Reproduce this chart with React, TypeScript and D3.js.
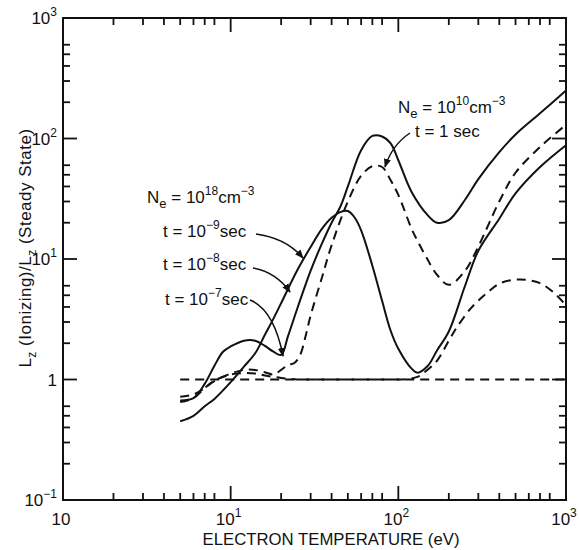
import React from "react";
import * as d3 from "d3";

// ---- axis domains & tick labels ----
const X_DOMAIN: [number, number] = [1, 1000];
const Y_DOMAIN: [number, number] = [0.1, 1000];
const xTickVals = [1, 10, 100, 1000];
const xTickSups = ["", "1", "2", "3"];
const yTickVals = [0.1, 1, 10, 100, 1000];
const yTickBases = ["10", "1", "10", "10", "10"];
const yTickSups = ["\u22121", "", "1", "2", "3"];
const xMinorMults = [2, 3, 4, 5, 6, 7, 8];
const yMinorMults = [2, 3, 4, 5, 6];

// ---- curves (T in eV, ratio) ----
// solid, starts lowest, peak ~25
const tA = [5, 6, 7, 8, 10, 12, 14, 16, 18, 20, 25, 30, 35, 40, 45, 50, 55, 60, 70, 80, 90, 100, 120, 130, 150, 170, 200, 250, 300, 400, 500, 700, 1000];
const rA = [0.45, 0.5, 0.6, 0.69, 0.95, 1.28, 1.65, 2.35, 3.2, 4.3, 8.1, 12.6, 17.8, 22, 24.5, 25, 22, 17.3, 8.8, 4.5, 2.54, 1.8, 1.23, 1.14, 1.3, 1.74, 2.5, 6, 11.7, 21.6, 35, 58, 88];
// solid, low-T bump, peak ~108
const tB = [5, 6, 7, 8, 9, 10, 12, 14, 16, 18, 20, 22, 25, 30, 35, 40, 45, 50, 60, 70, 80, 90, 100, 120, 150, 170, 200, 250, 300, 400, 500, 700, 1000];
const rB = [0.67, 0.7, 0.92, 1.3, 1.7, 1.88, 2.1, 2.1, 1.9, 1.7, 1.6, 2.3, 3.9, 8, 13.4, 20, 27, 40, 80, 105, 104, 91, 66, 36, 23, 20, 21, 31, 46, 77, 108, 162, 250];
// dashed, Ne=1e10 t=1 sec
const tD1 = [5, 6, 7, 8, 10, 12, 14, 16, 18, 20, 22, 24, 26, 28, 30, 35, 40, 50, 60, 70, 80, 90, 100, 120, 130, 150, 170, 200, 250, 300, 400, 500, 700, 1000];
const rD1 = [0.72, 0.75, 0.85, 0.97, 1.12, 1.2, 1.2, 1.15, 1.1, 1.2, 1.32, 1.37, 1.6, 2.3, 3.4, 7, 13, 30, 49, 59, 58, 45, 34, 17.8, 14.2, 9.8, 7.4, 6.1, 8, 12.7, 30, 52, 85, 130];
// dashed, lower
const tD2 = [5, 6, 7, 8, 10, 12, 14, 16, 20, 25, 30, 40, 60, 80, 100, 120, 130, 140, 170, 200, 223, 273, 337, 405, 530, 700, 880, 1000];
const rD2 = [0.65, 0.7, 0.85, 0.98, 1.1, 1.13, 1.12, 1.08, 1.03, 1.0, 1.0, 1.0, 1.0, 1.0, 1.0, 1.02, 1.05, 1.12, 1.43, 2.1, 2.7, 3.95, 5.2, 6.3, 6.76, 6.3, 5.0, 4.1];
// steady state
const tSS = [5, 1000];
const rSS = [1, 1];

const FONT = "'Liberation Sans', Arial, Helvetica, sans-serif";

export default function App() {
  const x = d3.scaleLog().domain(X_DOMAIN).range([63, 566]);
  const y = d3.scaleLog().domain(Y_DOMAIN).range([500, 18]);
  const [x0, x1] = x.range();
  const [y0, y1] = y.range();
  const zip = (t: number[], r: number[]) => t.map((v, i) => [v, r[i]] as [number, number]);
  const line = d3
    .line<[number, number]>()
    .x((d) => x(d[0]))
    .y((d) => y(d[1]))
    .curve(d3.curveCatmullRom.alpha(0.5));

  const xMinor: number[] = [];
  for (let dec = 1; dec < 1000; dec *= 10) xMinorMults.forEach((m) => xMinor.push(dec * m));
  const yMinor: number[] = [];
  for (let dec = 0.1; dec < 999; dec *= 10) yMinorMults.forEach((m) => yMinor.push(+(dec * m).toPrecision(3)));
  const xMajorInner = [10, 100];
  const yMajorInner = [1, 10, 100];
  const MAJ = 14, MIN = 7;

  const curveStyle = { fill: "none", stroke: "#111", strokeWidth: 2 };
  const dash = "9,6";

  return (
    <svg width={579} height={550} style={{ position: "absolute", left: 0, top: 0, background: "#fff" }} fontFamily={FONT}>
      <defs>
        <marker id="ah" viewBox="0 0 10 10" refX="9" refY="5" markerWidth="9" markerHeight="9" orient="auto" markerUnits="userSpaceOnUse">
          <path d="M0,1 L10,5 L0,9 z" fill="#111" />
        </marker>
      </defs>
      {/* frame */}
      <rect x={x0} y={y1} width={x1 - x0} height={y0 - y1} fill="none" stroke="#111" strokeWidth={2} />
      {/* ticks */}
      <g stroke="#111" strokeWidth={1.8}>
        {xMajorInner.map((v) => (
          <g key={"xm" + v}>
            <line x1={x(v)} x2={x(v)} y1={y0} y2={y0 - MAJ} />
            <line x1={x(v)} x2={x(v)} y1={y1} y2={y1 + MAJ} />
          </g>
        ))}
        {xMinor.map((v) => (
          <g key={"xn" + v}>
            <line x1={x(v)} x2={x(v)} y1={y0} y2={y0 - MIN} />
            <line x1={x(v)} x2={x(v)} y1={y1} y2={y1 + MIN} />
          </g>
        ))}
        {yMajorInner.map((v) => (
          <g key={"ym" + v}>
            <line x1={x0} x2={x0 + MAJ} y1={y(v)} y2={y(v)} />
            <line x1={x1} x2={x1 - MAJ} y1={y(v)} y2={y(v)} />
          </g>
        ))}
        {yMinor.map((v) => (
          <g key={"yn" + v}>
            <line x1={x0} x2={x0 + MIN} y1={y(v)} y2={y(v)} />
            <line x1={x1} x2={x1 - MIN} y1={y(v)} y2={y(v)} />
          </g>
        ))}
      </g>
      {/* tick labels */}
      <g fontSize={17} fill="#111">
        {yTickVals.map((v, i) => (
          <text key={"yl" + v} x={57} y={y(v) + 6} textAnchor="end">
            {yTickBases[i]}
            {yTickSups[i] && (
              <tspan dy={-8} fontSize={12}>
                {yTickSups[i]}
              </tspan>
            )}
          </text>
        ))}
        {xTickVals.map((v, i) => (
          <text key={"xl" + v} x={x(v) - 2} y={525} textAnchor="middle">
            10
            {xTickSups[i] && (
              <tspan dy={-8} fontSize={12}>
                {xTickSups[i]}
              </tspan>
            )}
          </text>
        ))}
      </g>
      {/* axis titles */}
      <text x={331} y={545} fontSize={17} textAnchor="middle" textLength={257} lengthAdjust="spacingAndGlyphs" fill="#111">
        ELECTRON TEMPERATURE (eV)
      </text>
      <text transform="translate(31,248) rotate(-90)" fontSize={17} textAnchor="middle" fill="#111" letterSpacing={0.5}>
        L<tspan dy={5} fontSize={12}>z</tspan>
        <tspan dy={-5}> (Ionizing)/L</tspan>
        <tspan dy={5} fontSize={12}>z</tspan>
        <tspan dy={-5}> (Steady State)</tspan>
      </text>
      {/* curves */}
      <path d={line(zip(tSS, rSS)) || ""} {...curveStyle} strokeDasharray={dash} />
      <path d={line(zip(tD2, rD2)) || ""} {...curveStyle} strokeDasharray={dash} />
      <path d={line(zip(tD1, rD1)) || ""} {...curveStyle} strokeDasharray={dash} />
      <path d={line(zip(tA, rA)) || ""} {...curveStyle} />
      <path d={line(zip(tB, rB)) || ""} {...curveStyle} />
      {/* annotations */}
      <g fontSize={17} fill="#111">
        <text x={147} y={203}>
          N<tspan dy={5} fontSize={13}>e</tspan>
          <tspan dy={-5}> = 10</tspan>
          <tspan dy={-8} fontSize={12}>18</tspan>
          <tspan dy={8}>cm</tspan>
          <tspan dy={-8} fontSize={12}>{"\u22123"}</tspan>
        </text>
        <text x={163} y={237}>
          t = 10<tspan dy={-8} fontSize={12}>{"\u22129"}</tspan>
          <tspan dy={8}>sec</tspan>
        </text>
        <text x={163} y={270}>
          t = 10<tspan dy={-8} fontSize={12}>{"\u22128"}</tspan>
          <tspan dy={8}>sec</tspan>
        </text>
        <text x={165} y={305}>
          t = 10<tspan dy={-8} fontSize={12}>{"\u22127"}</tspan>
          <tspan dy={8}>sec</tspan>
        </text>
        <text x={398} y={113}>
          N<tspan dy={5} fontSize={13}>e</tspan>
          <tspan dy={-5}> = 10</tspan>
          <tspan dy={-8} fontSize={12}>10</tspan>
          <tspan dy={8}>cm</tspan>
          <tspan dy={-8} fontSize={12}>{"\u22123"}</tspan>
        </text>
        <text x={415} y={137}>t = 1 sec</text>
      </g>
      <g fill="none" stroke="#111" strokeWidth={1.5} markerEnd="url(#ah)">
        <path d="M256,234 Q286,238 303,258" />
        <path d="M253,268 Q276,272 290,292" />
        <path d="M250,300 Q274,310 283,356" />
        <path d="M410,133 Q392,145 385,167" />
      </g>
    </svg>
  );
}
